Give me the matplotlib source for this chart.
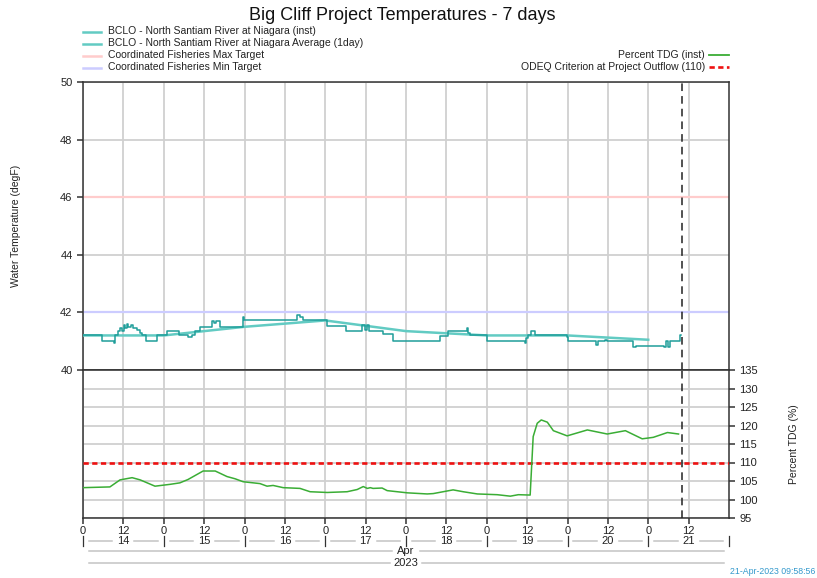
import matplotlib
matplotlib.use('Agg')
import matplotlib.pyplot as plt
import matplotlib.dates as mdates
import matplotlib.transforms as mtrans
from matplotlib.lines import Line2D
from matplotlib.ticker import FuncFormatter, FixedLocator
from datetime import datetime, timedelta

plt.rcParams['font.family'] = ['Liberation Sans', 'DejaVu Sans']

# ---------------- data ----------------
START = datetime(2023, 4, 14)
END = datetime(2023, 4, 22)
NOW = datetime(2023, 4, 21, 9, 58, 56)

# BCLO instantaneous temperature (degF), step changes: hours since Apr 14 00:00
inst_hours = [0, 5.6, 9.1, 9.4, 10.4, 11.0, 11.6, 12.2, 12.6, 13.1, 13.5, 14.3, 15.0, 16.1,
              16.9, 17.5, 18.7, 22.0, 25.0, 28.6, 31.2, 32.4, 33.3, 34.8, 38.4, 39.0, 39.6,
              40.7, 47.5, 47.8, 55.6, 56.0, 63.6, 64.6, 65.3, 72.6, 78.2, 83.0, 83.8, 84.3,
              85.0, 89.2, 92.2, 106.2, 108.6, 114.2, 114.5, 115.0, 120.1, 131.3, 131.7,
              132.2, 133.2, 134.4, 143.9, 144.2, 152.4, 153.2, 155.0, 155.6, 163.6, 164.5,
              172.8, 173.3, 173.8, 174.4, 177.4, 177.8]
inst_temp = [41.2, 41.0, 40.95, 41.2, 41.35, 41.45, 41.35, 41.55, 41.45, 41.6, 41.5, 41.55,
             41.45, 41.4, 41.3, 41.2, 41.0, 41.2, 41.36, 41.2, 41.15, 41.2, 41.36, 41.5,
             41.7, 41.62, 41.7, 41.5, 41.85, 41.74, 41.72, 41.74, 41.9, 41.85, 41.74, 41.52,
             41.36, 41.55, 41.4, 41.55, 41.36, 41.25, 41.0, 41.18, 41.36, 41.45, 41.3, 41.2,
             41.0, 40.95, 41.1, 41.2, 41.36, 41.2, 41.15, 41.0, 40.88, 41.0, 41.03, 41.0,
             40.8, 40.84, 40.8, 41.0, 40.8, 41.0, 41.2, 41.2]

# BCLO daily average temperature (degF)
avg_hours = [0, 24, 48, 72, 96, 120, 144, 168]
avg_temp = [41.2, 41.2, 41.5, 41.72, 41.35, 41.2, 41.2, 41.05]

# Percent TDG (inst)
tdg_hours = [0, 8.0, 11.0, 14.6, 17.0, 21.4, 25.9, 28.8, 31.2, 35.7, 39.3, 42.8, 45.2, 47.6,
             52.6, 54.7, 56.5, 59.5, 64.5, 67.5, 72.6, 78.5, 81.5, 83.3, 84.5, 85.4, 86.2,
             88.9, 90.4, 96.4, 102.3, 104.1, 110.0, 113.0, 117.2, 123.1, 127.0, 129.4,
             132.9, 133.8, 135.0, 136.2, 138.0, 139.8, 143.9, 149.9, 155.8, 161.2, 166.2,
             169.5, 173.7, 177.0]
tdg_pct = [103.2, 103.4, 105.3, 105.9, 105.3, 103.6, 104.1, 104.5, 105.4, 107.7, 107.7, 106.2,
           105.6, 104.8, 104.3, 103.6, 103.8, 103.2, 103.0, 102.1, 101.9, 102.1, 102.7, 103.5,
           103.0, 103.2, 103.0, 103.1, 102.4, 101.8, 101.5, 101.6, 102.6, 102.1, 101.5, 101.3,
           100.9, 101.3, 101.2, 117.0, 120.6, 121.5, 120.9, 118.6, 117.2, 118.8, 117.7, 118.6,
           116.4, 116.8, 118.1, 117.7]

max_target = 46
min_target = 42
odeq_criterion = 110

temp_ticks = [40, 42, 44, 46, 48, 50]
tdg_ticks = [95, 100, 105, 110, 115, 120, 125, 130, 135]
time_ticks_hours = list(range(0, 192, 12))

# ---------------- styles ----------------
INST_C = '#1f9e9a'
AVG_C = '#62cbc3'
TDG_C = '#3aad35'
GRID_C = '#d0d0d0'
SPINE_C = '#333333'
TXT_C = '#222222'

W, H = 817, 578
fig = plt.figure(figsize=(W / 100, H / 100), dpi=100)
L, R = 83 / W, 729 / W
ax1 = fig.add_axes([L, 1 - 370 / H, R - L, (370 - 82) / H])
ax2 = fig.add_axes([L, 1 - 518 / H, R - L, (518 - 370) / H])


def to_t(hours):
    return [START + timedelta(hours=h) for h in hours]


for ax in (ax1, ax2):
    ax.set_xlim(START, END)
    ax.xaxis.set_major_locator(FixedLocator(mdates.date2num(to_t(time_ticks_hours))))
    ax.grid(True, color=GRID_C, lw=1.3, zorder=0)
    ax.set_axisbelow(True)
    for s in ax.spines.values():
        s.set_color(SPINE_C)
        s.set_linewidth(1.1)
    ax.axvline(NOW, color='#222222', lw=1.1, ls=(0, (5, 3.3)), zorder=5)

# upper panel
ax1.set_ylim(40, 50)
ax1.set_yticks(temp_ticks)
ax1.axhline(max_target, color='#ffcccc', lw=1.6, zorder=1)
ax1.axhline(min_target, color='#ccccff', lw=1.6, zorder=1)
ax1.plot(to_t(avg_hours), avg_temp, color=AVG_C, lw=1.8, zorder=3)
ax1.plot(to_t(inst_hours), inst_temp, color=INST_C, lw=1.1, drawstyle='steps-post', zorder=4)
ax1.tick_params(axis='x', length=0, labelbottom=False)
ax1.tick_params(axis='y', direction='out', length=4.5, width=1.1, color=SPINE_C,
                labelsize=8, labelcolor=TXT_C, pad=3)

# lower panel
ax2.set_ylim(95, 135)
ax2.set_yticks(tdg_ticks)
ax2.yaxis.tick_right()
ax2.yaxis.set_label_position('right')
ax2.axhline(odeq_criterion, color='#ee1111', lw=1.9, ls=(0, (2.0, 1.3)), zorder=3)
ax2.plot(to_t(tdg_hours), tdg_pct, color=TDG_C, lw=1.1, zorder=4)
ax2.tick_params(axis='y', direction='out', length=4.5, width=1.1, color=SPINE_C,
                labelsize=8, labelcolor=TXT_C, pad=3)
ax2.tick_params(axis='x', direction='out', length=4, width=1.1, color=SPINE_C,
                labelsize=8, labelcolor=TXT_C, pad=1.5)
ax2.xaxis.set_major_formatter(FuncFormatter(lambda v, p: str(mdates.num2date(v).hour)))
ax2.set_ylabel('Percent TDG (%)', fontsize=7.5, color=TXT_C, labelpad=22)

fig.text(16 / W, 1 - 226 / H, 'Water Temperature (degF)', rotation=90, fontsize=7.5,
         color=TXT_C, ha='center', va='center')

# ---------------- date rows below axis ----------------
trans = mtrans.blended_transform_factory(ax2.transData, fig.transFigure)
px_day = (729 - 83) / 8.0
ROW_C = '#c4c4c4'


def fy(py):
    return 1 - py / H


def seg(t0, t1, y):
    ax2.add_line(Line2D([mdates.date2num(t0), mdates.date2num(t1)], [y, y], transform=trans,
                        color=ROW_C, lw=1.1, clip_on=False))


y_day = fy(541)
for d in range(8):
    day0 = START + timedelta(days=d)
    noon = day0 + timedelta(hours=12)
    ax2.text(mdates.date2num(noon), y_day, str(day0.day), transform=trans, ha='center',
             va='center', fontsize=8, color=TXT_C)
    g1 = timedelta(days=6 / px_day)
    g2 = timedelta(days=11 / px_day)
    seg(day0 + g1, noon - g2, y_day)
    seg(noon + g2, day0 + timedelta(days=1) - g1, y_day)
for d in range(9):
    t = mdates.date2num(START + timedelta(days=d))
    ax2.add_line(Line2D([t, t], [fy(546), fy(535.5)], transform=trans, color='#333333',
                        lw=0.9, clip_on=False))

mid = START + (END - START) / 2
for label, py, half in (('Apr', 551, 14), ('2023', 563, 16)):
    y = fy(py)
    ax2.text(mdates.date2num(mid), y, label, transform=trans, ha='center', va='center',
             fontsize=8, color=TXT_C)
    seg(START + timedelta(days=6 / px_day), mid - timedelta(days=half / px_day), y)
    seg(mid + timedelta(days=half / px_day), END - timedelta(days=5 / px_day), y)

# ---------------- title and legends ----------------
fig.text(402 / W, fy(16), 'Big Cliff Project Temperatures - 7 days', ha='center', va='center',
         fontsize=13, color='#111111')

left_items = [('BCLO - North Santiam River at Niagara (inst)', AVG_C, '-'),
              ('BCLO - North Santiam River at Niagara Average (1day)', AVG_C, '-'),
              ('Coordinated Fisheries Max Target', '#ffcccc', '-'),
              ('Coordinated Fisheries Min Target', '#ccccff', '-')]
for (lab, c, ls), py in zip(left_items, (31.5, 43.5, 55.5, 67.5)):
    fig.add_artist(Line2D([83 / W, 101 / W], [fy(py), fy(py)], color=c, lw=1.8, ls=ls))
    fig.text(108 / W, fy(py), lab, ha='left', va='center', fontsize=7.5, color=TXT_C)

right_items = [('Percent TDG (inst)', TDG_C, '-'),
               ('ODEQ Criterion at Project Outflow (110)', '#ee1111', (0, (2.0, 1.3)))]
for (lab, c, ls), py in zip(right_items, (55, 67)):
    fig.add_artist(Line2D([709 / W, 729 / W], [fy(py), fy(py)], color=c,
                          lw=1.9 if c == '#ee1111' else 1.3, ls=ls))
    fig.text(705 / W, fy(py), lab, ha='right', va='center', fontsize=7.5, color=TXT_C)

fig.text(815 / W, fy(571), NOW.strftime('%d-%b-%Y %H:%M:%S'), ha='right', va='center',
         fontsize=6.3, color='#3399cc')

fig.savefig('out.png', dpi=100)
